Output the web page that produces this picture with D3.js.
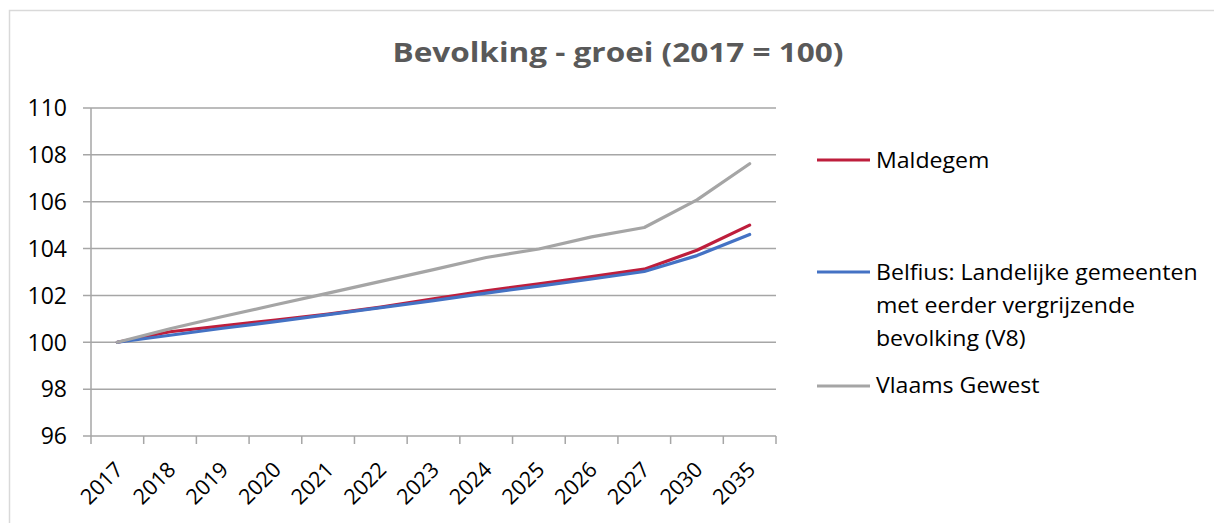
<!DOCTYPE html>
<html lang="nl">
<head>
    <meta charset="UTF-8">
    <title>Bevolking - groei</title>
    <script src="https://d3js.org/d3.v7.min.js"></script>
    <style>
        body {
            margin: 0;
            padding: 0;
            background: white;
            font-family: "Open Sans", sans-serif;
        }
        svg {
            display: block;
        }
    </style>
</head>
<body>
    <svg id="chart" width="1214" height="523"></svg>

    <script>
        let years = ["2017", "2018", "2019", "2020", "2021", "2022", "2023", "2024", "2025", "2026", "2027", "2030", "2035"];
        let maldegem = [100, 100.45, 100.7, 100.95, 101.2, 101.5, 101.85, 102.2, 102.5, 102.8, 103.12, 103.93, 105.0];
        let belfius = [100, 100.3, 100.6, 100.88, 101.18, 101.48, 101.78, 102.1, 102.4, 102.7, 103.02, 103.7, 104.6];
        let vlaams = [100, 100.58, 101.1, 101.6, 102.1, 102.6, 103.1, 103.62, 103.98, 104.5, 104.9, 106.08, 107.62];
        let yTicks = [96, 98, 100, 102, 104, 106, 108, 110];
        let seriesNames = ["Maldegem", "Belfius: Landelijke gemeenten met eerder vergrijzende bevolking (V8)", "Vlaams Gewest"];
        let seriesColors = ["#be1e3c", "#4472c4", "#a5a5a5"];

        let svg = d3.select("#chart");
        let plotLeft = 91, plotRight = 776, plotTop = 108, plotBottom = 436;

        // chart frame
        svg.append("path")
            .attr("d", "M9.5,523 L9.5,10.5 L1214,10.5")
            .attr("fill", "none")
            .attr("stroke", "#d9d9d9")
            .attr("stroke-width", 1.5);

        // title, stretched a bit to match the wider original font
        svg.append("text")
            .attr("transform", "translate(618,62) scale(1.19,1)")
            .attr("text-anchor", "middle")
            .attr("font-size", "26.5px")
            .attr("font-weight", "bold")
            .attr("fill", "#595959")
            .text("Bevolking - groei (2017 = 100)");

        let x = d3.scaleBand().domain(years).range([plotLeft, plotRight]);
        let y = d3.scaleLinear().domain([96, 110]).range([plotBottom, plotTop]);

        // gridlines
        svg.append("g")
            .selectAll("line")
            .data(yTicks)
            .join("line")
            .attr("x1", plotLeft - 8)
            .attr("x2", plotRight)
            .attr("y1", d => y(d))
            .attr("y2", d => y(d))
            .attr("stroke", "#a6a6a6")
            .attr("stroke-width", 1.5);

        // y labels
        svg.append("g")
            .selectAll("text")
            .data(yTicks)
            .join("text")
            .attr("x", 67)
            .attr("y", d => y(d))
            .attr("dy", "0.36em")
            .attr("text-anchor", "end")
            .attr("font-size", "23px")
            .attr("fill", "#000")
            .text(d => d);

        // y axis line
        svg.append("line")
            .attr("x1", plotLeft).attr("x2", plotLeft)
            .attr("y1", plotTop).attr("y2", plotBottom)
            .attr("stroke", "#a6a6a6")
            .attr("stroke-width", 1.5);

        // x axis ticks at band edges
        let edges = years.map(d => x(d)).concat([plotRight]);
        svg.append("g")
            .selectAll("line")
            .data(edges)
            .join("line")
            .attr("x1", d => d).attr("x2", d => d)
            .attr("y1", plotBottom).attr("y2", plotBottom + 8)
            .attr("stroke", "#a6a6a6")
            .attr("stroke-width", 1.5);

        svg.append("g")
            .selectAll("text")
            .data(years)
            .join("text")
            .attr("transform", d => `translate(${x(d) + x.bandwidth() / 2 + 7},${plotBottom + 35}) rotate(-45)`)
            .attr("text-anchor", "end")
            .attr("font-size", "21.5px")
            .attr("fill", "#000")
            .text(d => d);

        // lines
        let line = d3.line()
            .x((d, i) => x(years[i]) + x.bandwidth() / 2)
            .y(d => y(d));

        [maldegem, belfius, vlaams].forEach((vals, i) => {
            svg.append("path")
                .datum(vals)
                .attr("d", line)
                .attr("fill", "none")
                .attr("stroke", seriesColors[i])
                .attr("stroke-width", 3.2)
                .attr("stroke-linejoin", "round")
                .attr("stroke-linecap", "round");
        });

        // legend
        let legendRows = [
            { y: 160, base: 168, lines: ["Maldegem"] },
            { y: 272, base: 280, lines: ["Belfius: Landelijke gemeenten", "met eerder vergrijzende", "bevolking (V8)"] },
            { y: 386, base: 393, lines: ["Vlaams Gewest"] }
        ];
        legendRows.forEach((row, i) => {
            svg.append("line")
                .attr("x1", 817).attr("x2", 870)
                .attr("y1", row.y).attr("y2", row.y)
                .attr("stroke", seriesColors[i])
                .attr("stroke-width", 3.2);
            row.lines.forEach((l, j) => {
                svg.append("text")
                    .attr("transform", `translate(876,${row.base + j * 33}) scale(1.1,1)`)
                    .attr("font-size", "21px")
                    .attr("fill", "#000")
                    .text(l);
            });
        });
    </script>
</body>
</html>
